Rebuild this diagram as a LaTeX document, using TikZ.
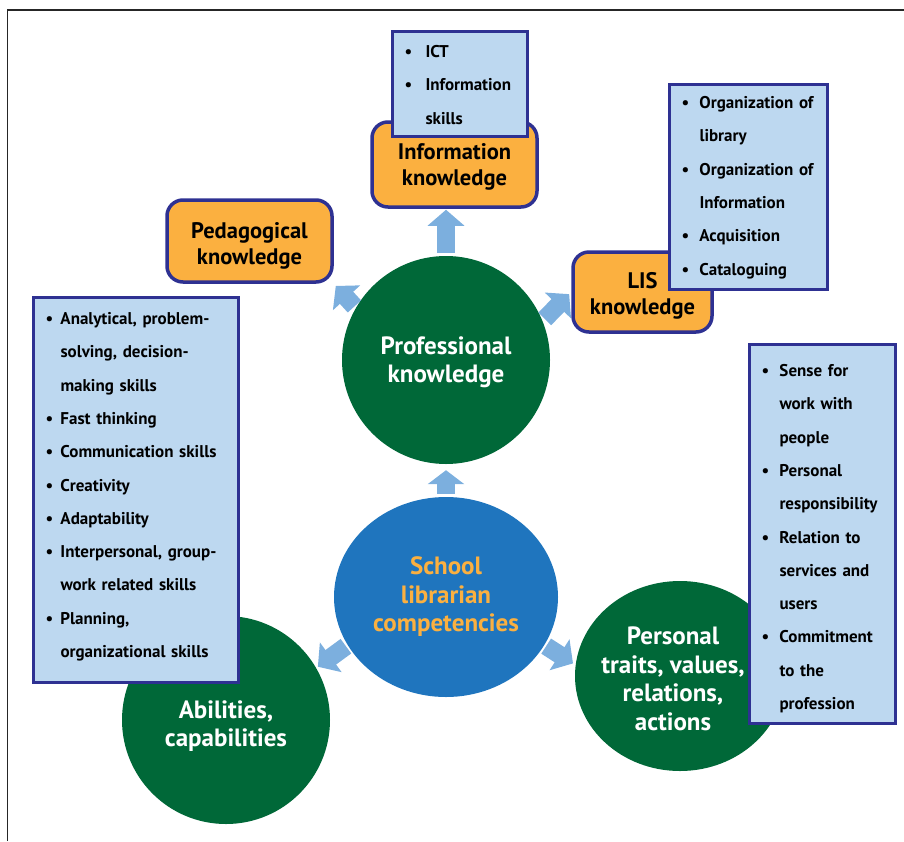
\documentclass[tikz,border=0pt]{standalone}
\usepackage{fontspec}
\setmainfont{PT Sans}
\usetikzlibrary{arrows.meta,shapes.geometric}

\definecolor{leafgreen}{RGB}{0,104,56}
\definecolor{hubblue}{RGB}{31,117,190}
\definecolor{amber}{RGB}{251,176,64}
\definecolor{paleblue}{RGB}{189,216,240}
\definecolor{navy}{RGB}{46,49,146}
\definecolor{arrowblue}{RGB}{124,175,222}

% bullet item and continuation line
\newlength\bw
\newcommand\li[1]{\mbox{\makebox[\bw][l]{\textbullet}#1}}
\newcommand\lc[1]{\mbox{\hspace{\bw}#1}}

\begin{document}
\begin{tikzpicture}[
   x=1pt,y=-1pt,
   areatext/.style={text=white,inner sep=0pt,align=center,font=\fontsize{25}{28.5}\selectfont\bfseries},
   area/.style={areatext,circle,fill=leafgreen,minimum size=208pt},
   hub/.style={ellipse,fill=hubblue,text=amber,minimum width=224pt,minimum height=200pt,inner sep=0pt,align=center,font=\fontsize{25}{28.5}\selectfont\bfseries},
   field/.style={rectangle,rounded corners=16pt,draw=navy,line width=3.5pt,fill=amber,align=center,text depth=0pt,font=\fontsize{22.5}{25.5}\selectfont\bfseries},
   itemlist/.style={rectangle,draw=navy,line width=3pt,fill=paleblue,anchor=north west,inner xsep=12pt,inner ysep=0pt,align=left,font=\fontsize{17}{33.3}\selectfont\bfseries},
   barrow/.style={draw=arrowblue,line width=18pt,-{Triangle[length=16pt,width=36pt]}}]
\useasboundingbox (0,0) rectangle (904,841);
\draw[line width=1.2pt,black!85] (7.5,841) -- (7.5,10) -- (904,10);

% knowledge fields
\node[field,minimum width=165pt,minimum height=85pt,text height=41pt] (info) at (454.5,164.5) {Information\\knowledge};
\node[field,minimum width=165pt,minimum height=82pt,text height=46pt] (ped) at (249.5,241) {Pedagogical\\knowledge};
\node[field,minimum width=139pt,minimum height=80pt,text height=44pt] (lis) at (642.5,292) {LIS\\knowledge};

% competency areas
\node[area,text height=45.5pt,text depth=0pt] (prof) at (446,360) {Professional\\knowledge};
\node[hub] (slc) at (446,597) {School\\librarian\\competencies};
\node[area,text height=53.5pt,text depth=0pt] (abil) at (226,720) {Abilities,\\capabilities};
\node[area,ellipse,minimum width=210pt,minimum height=190pt] (pers) at (680,676) {};
\node[areatext] (perstext) at ([xshift=-7pt,yshift=-3pt]pers.center) {Personal\\traits, values,\\relations,\\actions};

% arrows
\draw[barrow,shorten <=3pt,shorten >=1pt] (prof.north) -- (prof.north |- info.south);
\draw[barrow,-{Triangle[length=14pt,width=36pt]},shorten <=3pt,shorten >=6pt] (slc.north) -- (prof.south);
\draw[barrow,shorten <=2pt,shorten >=3pt] (prof.150) -- (ped.south east);
\draw[barrow,shorten <=3pt,shorten >=3pt] (prof.22) -- (lis.west);
\draw[barrow,shorten <=2pt,shorten >=2pt] (slc.206) -- (abil.30);
\draw[barrow,shorten <=2pt,shorten >=3pt] (slc.334) -- (pers.174);

% lists
\node[itemlist,minimum width=135pt,text height=26pt,text depth=79pt,text width=111pt,execute at begin node={\setlength\bw{21pt}}] (ict) at (391,30)
  {\li{ICT}\\ \li{Information}\\ \lc{skills}};
\node[itemlist,minimum width=158pt,text height=24pt,text depth=181pt,text width=134pt,execute at begin node={\setlength\bw{18pt}}] (lislist) at (668,83)
  {\li{Organization of}\\ \lc{library}\\ \li{Organization of}\\ \lc{Information}\\ \li{Acquisition}\\ \li{Cataloguing}};
\node[itemlist,minimum width=205pt,text height=27pt,text depth=358pt,text width=181pt,execute at begin node={\setlength\bw{15pt}}] (abillist) at (32,296)
  {\li{Analytical, problem-}\\ \lc{solving, decision-}\\ \lc{making skills}\\ \li{Fast thinking}\\ \li{Communication skills}\\ \li{Creativity}\\ \li{Adaptability}\\ \li{Interpersonal, group-}\\ \lc{work related skills}\\ \li{Planning,}\\ \lc{organizational skills}};
\node[itemlist,minimum width=146pt,text height=32pt,text depth=347pt,text width=122pt,execute at begin node={\setlength\bw{18pt}}] (perslist) at (748,343)
  {\li{Sense for}\\ \lc{work with}\\ \lc{people}\\ \li{Personal}\\ \lc{responsibility}\\ \li{Relation to}\\ \lc{services and}\\ \lc{users}\\ \li{Commitment}\\ \lc{to the}\\ \lc{profession}};
\end{tikzpicture}
\end{document}
